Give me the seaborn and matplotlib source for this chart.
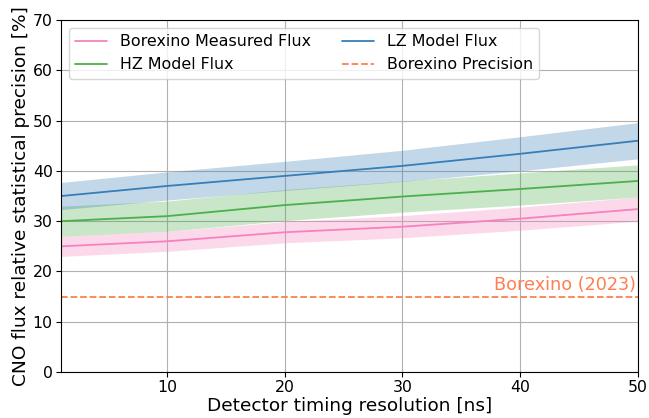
import numpy as np
import pandas as pd
import seaborn as sns
import matplotlib
matplotlib.use("Agg")
import matplotlib.pyplot as plt

# timing resolution points [ns]
resolution = [1, 10, 20, 30, 40, 50]

# mean precision [%] and band half-widths
borexino_mean = [25.0, 26.0, 27.8, 28.9, 30.5, 32.4]
borexino_err = [2.0, 2.0, 2.1, 2.2, 2.3, 2.4]
hz_mean = [30.0, 31.0, 33.2, 34.9, 36.4, 38.0]
hz_err = [3.0, 3.0, 3.1, 3.1, 3.2, 3.2]
lz_mean = [35.0, 37.0, 39.0, 41.0, 43.4, 46.0]
lz_err = [2.7, 2.8, 2.9, 3.1, 3.4, 3.6]
borexino_precision = 15

colors = {"Borexino Measured Flux": "#f781bf",
          "HZ Model Flux": "#4daf4a",
          "LZ Model Flux": "#377eb8"}

rows = []
for name, mean, err in [("Borexino Measured Flux", borexino_mean, borexino_err),
                        ("HZ Model Flux", hz_mean, hz_err),
                        ("LZ Model Flux", lz_mean, lz_err)]:
    for r, m, e in zip(resolution, mean, err):
        rows.append({"resolution": r, "precision": m, "err": e, "model": name})
df = pd.DataFrame(rows)

sns.set_style("ticks", {"axes.edgecolor": "black", "text.color": "black",
                        "xtick.color": "black", "ytick.color": "black",
                        "axes.labelcolor": "black"})
plt.rcParams["font.family"] = ["DejaVu Sans"]

fig, ax = plt.subplots(figsize=(6.49, 4.18), dpi=100)

sns.lineplot(data=df, x="resolution", y="precision", hue="model",
             palette=colors, ax=ax, linewidth=1.3)
for name, sub in df.groupby("model"):
    ax.fill_between(sub["resolution"], sub["precision"] - sub["err"],
                    sub["precision"] + sub["err"], color=colors[name],
                    alpha=0.3, linewidth=0)

ax.axhline(borexino_precision, color="#ff7f50", linestyle="--", linewidth=1.3,
           label="Borexino Precision")
ax.text(49.8, borexino_precision + 0.6, "Borexino (2023)", color="#ff7f50",
        ha="right", va="bottom", fontsize=12.7)

ax.set_xlim(1, 50)
ax.set_ylim(0, 70)
ax.set_xticks([10, 20, 30, 40, 50])
ax.set_yticks(range(0, 71, 10))
ax.grid(True, color="#b0b0b0", linewidth=0.8)
ax.tick_params(labelsize=11.3, pad=2.5)
ax.set_xlabel("Detector timing resolution [ns]", fontsize=13.3, labelpad=1)
ax.set_ylabel("CNO flux relative statistical precision [%]", fontsize=13.3, labelpad=2)

handles, labels = ax.get_legend_handles_labels()
order = ["Borexino Measured Flux", "HZ Model Flux", "LZ Model Flux", "Borexino Precision"]
hl = {l: h for h, l in zip(handles, labels)}
ax.legend([hl[o] for o in order], order, ncol=2, loc="upper left",
          fontsize=11.4, frameon=True)

fig.subplots_adjust(left=0.094, right=0.983, top=0.952, bottom=0.11)
fig.savefig("out.png", dpi=100)
